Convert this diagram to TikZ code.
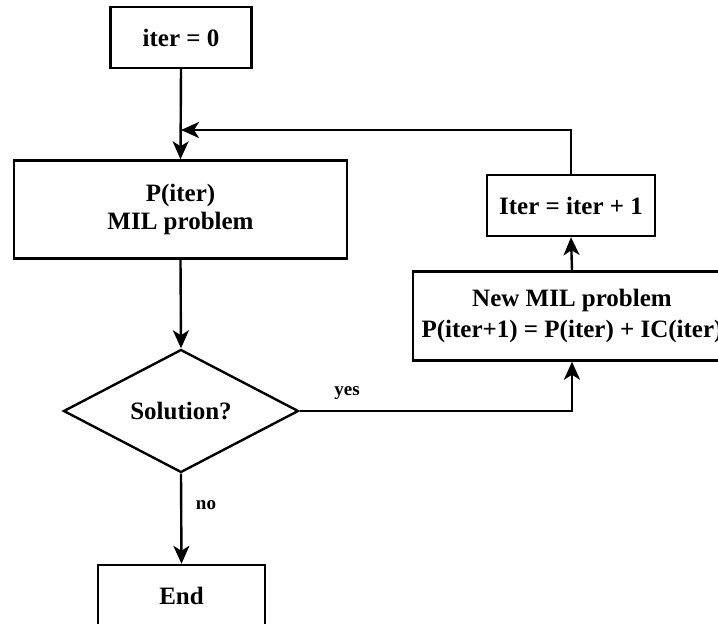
\documentclass[tikz,border=0pt]{standalone}
\usepackage{fontspec}
\setmainfont{Liberation Serif}
\usetikzlibrary{arrows.meta,shapes.geometric}

\tikzset{
  flow/.style={draw, line width=2.4pt, inner sep=0pt, align=center,
    font=\bfseries\fontsize{25}{28}\selectfont},
  procbox/.style={flow, rectangle},
  decision/.style={flow, diamond},
  link/.style={line width=2.4pt, -{Stealth[length=18pt,width=16pt,inset=5pt]}},
  tag/.style={font=\bfseries\fontsize{19}{22}\selectfont, inner sep=0pt},
}

\begin{document}
\begin{tikzpicture}[x=1pt, y=-1pt]
  \clip (0,0) rectangle (718,624);
  \fill[white] (0,0) rectangle (718,624);

  % boxes of the flow
  \node[procbox, minimum width=141pt, minimum height=61pt] (start) at (181,37.5) {iter = 0};
  \node[procbox, minimum width=333pt, minimum height=98pt] (prob) at (180.5,209.5) {P(iter)\\MIL problem};
  \node[decision, minimum width=235pt, minimum height=123pt, aspect=1.91] (dec) at (181,411) {Solution?};
  \node[procbox, minimum width=167pt, minimum height=61pt] (end) at (181.5,595.5) {End};
  \node[procbox, minimum width=168pt, minimum height=61pt] (inc) at (571,205.5) {Iter = iter + 1};
  \node[procbox, minimum width=318pt, minimum height=89pt,
        font=\bfseries\fontsize{25}{31}\selectfont] (newp) at (572,316)
        {New MIL problem\\P(iter+1) = P(iter) + IC(iter)};

  \coordinate (join) at (181,130);

  % connectors
  \draw[link] (start.south) -- (prob.north);
  \draw[link] (prob.south) -- (dec.north);
  \draw[link] (dec.south) -- (end.north);
  \draw[link] (dec.east) -| (newp.south);
  \draw[link] (newp.north) -- (inc.south);
  \draw[link] (inc.north) |- (join);

  % branch labels
  \node[tag] (yes) at (347,393) {yes};
  \node[tag] (no) at (206,505) {no};
\end{tikzpicture}
\end{document}
